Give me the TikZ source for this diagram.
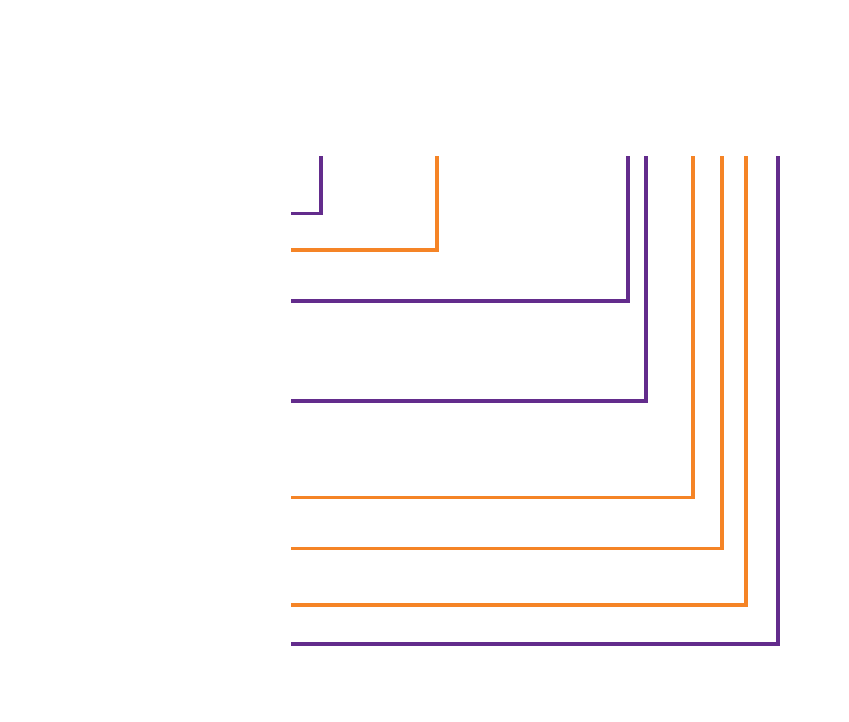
\documentclass[tikz,border=0pt]{standalone}
\definecolor{lpurple}{HTML}{632C8C}
\definecolor{lorange}{HTML}{F58426}
\begin{document}
\begin{tikzpicture}[x=1pt,y=-1pt,
  conn/.style={line width=3.4pt,line cap=rect,line join=miter},
  pconn/.style={conn,draw=lpurple},
  oconn/.style={conn,draw=lorange}]
\useasboundingbox (0,0) rectangle (849,722);
% start points (left) and top points
\foreach \n/\y/\x in {a/213.5/321,b/250/437,c/301/628,d/401/646,e/497.5/693,f/548.5/722,g/605/746,h/644/778}{
  \coordinate (s\n) at (292.5,\y);
  \coordinate (t\n) at (\x,157.5);
}
\draw[pconn] (sa) -| (ta);
\draw[oconn] (sb) -| (tb);
\draw[pconn] (sc) -| (tc);
\draw[pconn] (sd) -| (td);
\draw[oconn] (se) -| (te);
\draw[oconn] (sf) -| (tf);
\draw[oconn] (sg) -| (tg);
\draw[pconn] (sh) -| (th);
\end{tikzpicture}
\end{document}
